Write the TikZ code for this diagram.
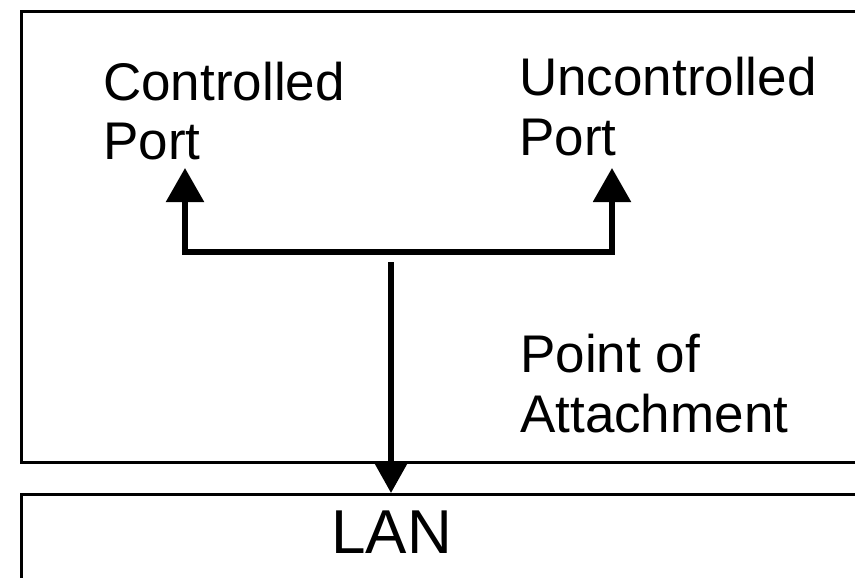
\documentclass[tikz,border=0pt]{standalone}
\usepackage{fontspec}
\setmainfont{Liberation Sans}
\usetikzlibrary{arrows.meta}
\tikzset{
    box/.style={draw,line width=3pt,anchor=north west,inner sep=0pt},
    label/.style={anchor=base west,align=left,inner sep=0pt,font=\fontsize{53}{60}\selectfont},
    link/.style={line width=5.5pt,line cap=butt,line join=miter},
    port/.style={link,-{Triangle[width=37pt,length=34pt]}}
}
\begin{document}
\begin{tikzpicture}[x=1pt,y=-1pt]
  \useasboundingbox (0,0) rectangle (855,578);
  % Boxes
  \node[box,minimum width=880pt,minimum height=450pt] (device) at (19.5,10.5) {};
  \node[box,minimum width=880pt,minimum height=120pt] (lanbox) at (19.5,493) {};

  % Labels
  \node[label] (ctrl) at (103,160) {Controlled\\Port};
  \node[label] (unctrl) at (519,155) {Uncontrolled\\Port};
  \node[label] (poa) at (520,432) {Point of\\Attachment};
  \node[label,font=\fontsize{62}{70}\selectfont] (lan) at (331,553) {LAN};

  % Bar and arrows
  \coordinate (barl) at (185,252);
  \coordinate (barr) at (612,252);
  \coordinate (ctrltip) at (185,168);
  \coordinate (unctrltip) at (612,168);
  \coordinate (poastart) at (391,262);
  \coordinate (lantip) at (391,493);
  \draw[port] (barr) -- (barl) -- (ctrltip);
  \draw[port] (barl) -- (barr) -- (unctrltip);
  \draw[link,-{Triangle[width=33pt,length=31pt]}] (poastart) -- (lantip);
\end{tikzpicture}
\end{document}
